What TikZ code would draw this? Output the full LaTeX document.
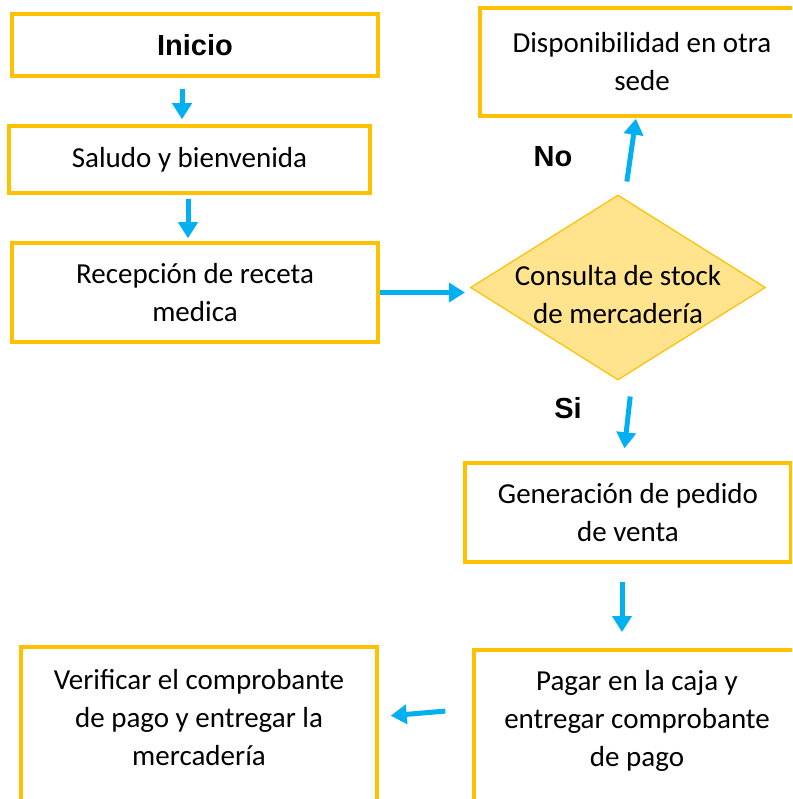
\documentclass[tikz,border=0pt]{standalone}
\usepackage{fontspec}
\setmainfont{Carlito}
\newfontfamily\labelfont{Liberation Sans}
\usetikzlibrary{shapes.geometric,arrows.meta}

\definecolor{boxorange}{HTML}{FFC000}
\definecolor{flowblue}{HTML}{00B0F0}
\definecolor{stockfill}{HTML}{FFE38D}

\newcommand{\lowtext}[2]{\smash{\makebox[0pt]{\raisebox{#1}{\begin{tabular}{@{}c@{}}#2\end{tabular}}}}}

\tikzset{
  proc/.style={draw=boxorange, line width=3.5pt, fill=white, inner sep=0pt, align=center, font=\fontsize{29}{38}\selectfont},
  decision/.style={diamond, draw=boxorange, line width=1.2pt, fill=stockfill, inner sep=0pt, font=\fontsize{29}{38}\selectfont},
  arr/.style={draw=flowblue, line width=5pt, -{Triangle[length=16pt,width=19pt]}},
  lbl/.style={font=\labelfont\bfseries\fontsize{29}{34}\selectfont}
}

\begin{document}
\begin{tikzpicture}[x=1pt, y=-1pt]
    \useasboundingbox (0,0) rectangle (792,799);
    \clip (0,0) rectangle (792,799);
    \node [proc, minimum width=366pt, minimum height=62pt] (inicio) at (195,45) {\labelfont\bfseries Inicio};
    \node [proc, minimum width=361pt, minimum height=67pt] (saludo) at (189.5,159.5) {Saludo y bienvenida};
    \node [proc, minimum width=366pt, minimum height=99pt] (recep) at (195,292.5) {Recepción de receta\\medica};
    \node [proc, minimum width=324pt, minimum height=108pt] (dispon) at (642,62) {Disponibilidad en otra\\sede};
    \node [decision, minimum width=295pt, minimum height=185pt] (stock) at (618,287.5) {\lowtext{-16pt}{Consulta de stock\\de mercadería}};
    \node [proc, minimum width=326pt, minimum height=99pt] (pedido) at (628,512.5) {Generación de pedido\\de venta};
    \node [proc, minimum width=326pt, minimum height=160pt, anchor=north] (pagar) at (637,648) {\lowtext{3pt}{Pagar en la caja y\\entregar comprobante\\de pago}};
    \node [proc, minimum width=356pt, minimum height=160pt, anchor=north] (verif) at (199,645) {\lowtext{1pt}{Verificar el comprobante\\de pago y entregar la\\mercadería}};
    \node [lbl] (nolbl) at (553,157) {No};
    \node [lbl] (silbl) at (568,408) {Si};
    \draw [arr, shorten <=11pt, shorten >=5pt] ([xshift=-13pt]inicio.south) -- ([xshift=-7.5pt]saludo.north);
    \draw [arr, shorten <=4pt, shorten >=3pt] ([xshift=-1.5pt]saludo.south) -- ([xshift=-7pt]recep.north);
    \draw [arr, shorten >=5pt] (recep.east) -- (recep.east -| stock.west);
    \draw [arr, shorten <=13pt, shorten >=1pt] ([xshift=7pt]stock.north) -- ([xshift=-6pt]dispon.south);
    \draw [arr, shorten <=16pt, shorten >=13pt] ([xshift=14pt]stock.south) -- ([xshift=-5pt]pedido.north);
    \draw [arr, shorten <=18pt, shorten >=16pt] ([xshift=-6pt]pedido.south) -- ([xshift=-15pt]pagar.north);
    \draw [arr, shorten <=27pt, shorten >=12pt] ([yshift=21pt]pagar.west) -- ([yshift=10pt]verif.east);
\end{tikzpicture}
\end{document}
